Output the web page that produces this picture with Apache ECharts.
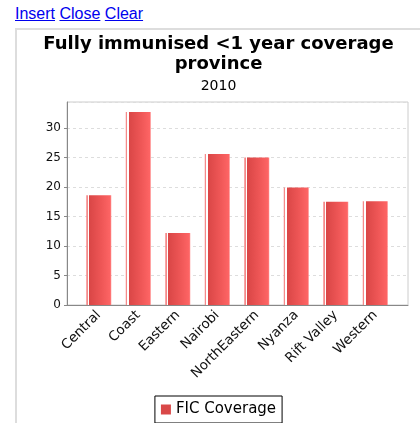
<!DOCTYPE html>
<html>
<head>
<meta charset="utf-8">
<script src="https://cdn.jsdelivr.net/npm/echarts@6/dist/echarts.min.js"></script>
<style>
  body { margin: 0; width: 420px; height: 423px; overflow: hidden; background: #fff; }
  #links { position: absolute; left: 15px; top: 5px; font-size: 16px; font-family: "Liberation Sans", Arial, sans-serif; }
  #links a { color: #0000ee; text-decoration: underline; }
  #main { position: absolute; left: 15px; top: 28px; width: 405px; height: 395px; border-left: 2px solid #ddd; border-top: 2px solid #ddd; box-sizing: border-box; }
</style>
</head>
<body>
<div id="links"><a href="#">Insert</a> <a href="#">Close</a> <a href="#">Clear</a></div>
<div id="main"></div>
<script>
const provinces = ['Central', 'Coast', 'Eastern', 'Nairobi', 'NorthEastern', 'Nyanza', 'Rift Valley', 'Western'];
const ficCoverage = [18.6, 32.7, 12.2, 25.6, 25.0, 19.9, 17.5, 17.6];
const yTicks = [0, 5, 10, 15, 20, 25, 30];
const yMax = 34.4;

const chart = echarts.init(document.getElementById('main'));

const barColor = new echarts.graphic.LinearGradient(0, 0, 1, 0, [
    {offset: 0, color: '#f58a8a'},
    {offset: 0.05, color: '#f58a8a'},
    {offset: 0.06, color: '#ffffff'},
    {offset: 0.11, color: '#ffffff'},
    {offset: 0.12, color: '#d94646'},
    {offset: 0.6, color: '#ee5656'},
    {offset: 0.95, color: '#fd6464'},
    {offset: 1, color: '#ff8a8a'}
]);

const labelFont = {fontFamily: 'DejaVu Sans', color: '#111'};

chart.setOption({
    animation: false,
    title: [
        {
            text: 'Fully immunised <1 year coverage\nprovince',
            left: 'center',
            top: -1,
            textStyle: {fontFamily: 'DejaVu Sans', fontSize: 18, fontWeight: 'bold', color: '#000', lineHeight: 20}
        },
        {
            text: '2010',
            left: 'center',
            top: 44,
            textStyle: {fontFamily: 'DejaVu Sans', fontSize: 14, fontWeight: 'normal', color: '#000'}
        }
    ],
    legend: {
        data: ['FIC Coverage'],
        bottom: 0,
        left: 'center',
        borderColor: '#000',
        borderWidth: 1,
        padding: [6, 6, 6, 6],
        itemWidth: 10,
        itemHeight: 10,
        itemGap: 6,
        icon: 'rect',
        itemStyle: {color: '#d94848'},
        textStyle: {fontFamily: 'DejaVu Sans', fontSize: 15, color: '#000'}
    },
    grid: [
        {left: 50, right: 12, top: 72, bottom: 118, show: true, borderColor: '#ccc', borderWidth: 1},
        {left: 62, right: 25, top: 72, bottom: 118}
    ],
    xAxis: [
        {
            type: 'category',
            gridIndex: 0,
            data: provinces,
            axisLine: {lineStyle: {color: '#888'}},
            axisTick: {show: false},
            axisLabel: {show: false}
        },
        {
            type: 'category',
            gridIndex: 1,
            data: provinces,
            axisLine: {show: false},
            axisTick: {show: false},
            axisLabel: Object.assign({rotate: 45, interval: 0, margin: 8, fontSize: 13.5}, labelFont)
        }
    ],
    yAxis: [
        {
            type: 'value',
            gridIndex: 0,
            min: 0,
            max: yMax,
            interval: 5,
            axisLine: {show: true, lineStyle: {color: '#888'}},
            axisTick: {show: true, length: 3, lineStyle: {color: '#888'}},
            axisLabel: Object.assign({
                margin: 6,
                fontSize: 12,
                showMaxLabel: false,
                formatter: v => (yTicks.indexOf(v) >= 0 ? v : '')
            }, labelFont),
            splitLine: {lineStyle: {color: '#ddd', type: [3, 3]}}
        },
        {
            type: 'value',
            gridIndex: 1,
            min: 0,
            max: yMax,
            show: false
        }
    ],
    series: [{
        name: 'FIC Coverage',
        type: 'bar',
        xAxisIndex: 1,
        yAxisIndex: 1,
        data: ficCoverage,
        barWidth: 25,
        itemStyle: {color: barColor}
    }]
});
</script>
</body>
</html>
